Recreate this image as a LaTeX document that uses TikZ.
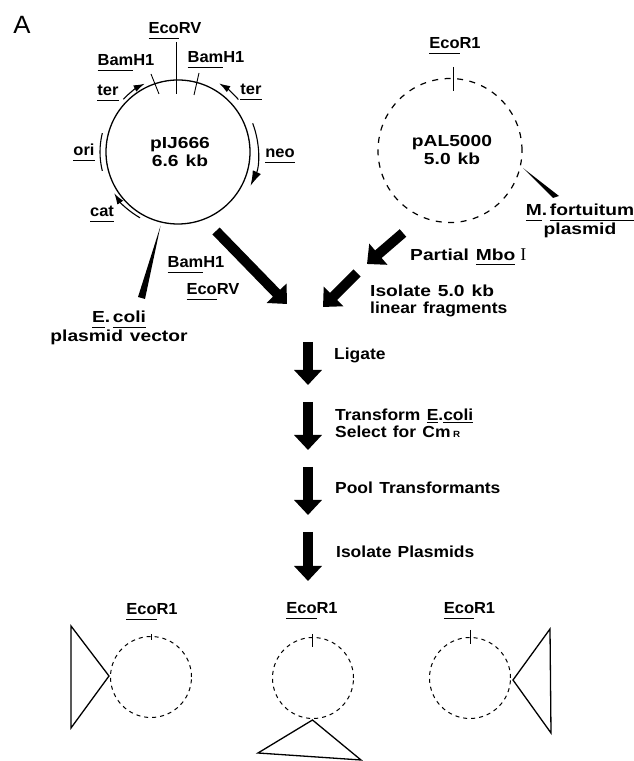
\documentclass[tikz,border=0pt]{standalone}
\usepackage{fontspec}
\setmainfont[FakeStretch=1.03]{Liberation Sans}
\newfontfamily\romanI{Liberation Serif}
\newfontfamily\stepfont[FakeStretch=1.09,WordSpace=1.3]{Liberation Sans}
\newfontfamily\widefont[FakeStretch=1.2,WordSpace=1.3]{Liberation Sans}
\usetikzlibrary{arrows.meta}

\newsavebox{\ulbox}
\newcommand{\uln}[2][5.5pt]{\sbox{\ulbox}{#2}\smash{\rlap{\rule[-#1]{\wd\ulbox}{0.9pt}}}\usebox{\ulbox}}

\tikzset{
  lab/.style={font=\fontsize{16}{17.5}\selectfont\bfseries,inner sep=0pt,align=center},
  widelab/.style={font=\fontsize{16}{17.5}\selectfont\bfseries\widefont,inner sep=0pt,align=center},
  steplab/.style={font=\fontsize{16}{17}\selectfont\bfseries\stepfont,inner sep=0pt,anchor=west,align=left},
  plasmid/.style={circle,draw,line width=1.3pt,inner sep=0pt,minimum size=144pt},
  parent/.style={circle,draw,dash pattern=on 6pt off 6.5pt,line width=1.2pt,inner sep=0pt,minimum size=144pt},
  product/.style={circle,draw,dash pattern=on 4pt off 4pt,line width=1pt,inner sep=0pt,minimum size=81pt},
  fatarrow/.style={line width=10pt,-{Triangle[length=15pt,width=27pt]}},
  genearrow/.style={line width=1.1pt,-{Latex[length=11pt,width=7pt]}},
  sitetick/.style={line width=0.9pt},
  wedge/.style={fill=black},
  insert/.style={line width=1.3pt,line join=miter}
}

\begin{document}
\begin{tikzpicture}[x=1pt,y=1pt]
\useasboundingbox (0,0) rectangle (634,761);

\node (panel) at (22,736) {\fontsize{25}{27}\selectfont A};

% pIJ666
\node[plasmid] (pIJ) at (178,609) {};
\node[widelab] (pIJname) at (180,609) {pIJ666\\6.6 kb};
\draw[sitetick] (176,719) -- (176,667);
\draw[sitetick] (151,687) -- (159,667);
\draw[sitetick] (199,688) -- (194,666);
\node[lab] (topEcoRV) at (175,733) {\uln{Eco}RV};
\node[lab] (leftBam) at (126,701) {\uln{Bam}H1};
\node[lab] (rightBam) at (216,704) {\uln{Bam}H1};
\node[lab] (leftter) at (108,671) {\uln{ter}};
\node[lab] (rightter) at (251,672) {\uln{ter}};
\node[lab] (ori) at (84,611) {\uln{ori}};
\node[lab] (neo) at (280,608) {\uln{neo}};
\node[lab] (cat) at (102,550) {\uln{cat}};
\draw[genearrow] (pIJ.center) ++(136:76) arc (136:116:76);
\draw[genearrow] (pIJ.center) ++(41:80) arc (41:59:80);
\draw[genearrow,-{Latex[length=15pt,width=9pt]}] (pIJ.center) ++(21:80) arc (21:-25:80);
\draw[genearrow] (pIJ.center) ++(240:76) arc (240:213:76);
\draw[line width=1.1pt] (pIJ.center) ++(166:78) arc (166:194:78);

% pAL5000
\node[parent] (pAL) at (450,610.5) {};
\node[widelab] (pALname) at (452,611) {pAL5000\\5.0 kb};
\draw[sitetick] (453,694) -- (453,670);
\node[lab] (topEcoR) at (455,718) {\uln{Eco}R1};

% wedges to the labels
\coordinate (vectorTip) at (160.5,535);
\fill[wedge] (vectorTip) -- (138,464) -- (145,462) -- cycle;
\node[widelab] (vector) at (119,433) {\uln{E}.\,\uln{coli}\\[1.5pt]plasmid vector};
\coordinate (fortTip) at (523,593);
\fill[wedge] (fortTip) -- (553,563) -- (559,565) -- cycle;
\node[widelab] (fort) at (580,540.5) {\uln{M}.\,\uln{fortuitum}\\[1.5pt]plasmid};

% digest arrows
\coordinate (bigTail) at (216,530);
\coordinate (bigTip) at (287,457);
\draw[fatarrow] (bigTail) -- (bigTip);
\node[lab] (cutBam) at (196,499) {\uln{Bam}H1};
\node[lab] (cutEco) at (213,472) {\uln{Eco}RV};
\coordinate (mboTail) at (403,528);
\coordinate (mboTip) at (367,497);
\draw[fatarrow] (mboTail) -- (mboTip);
\node[steplab,font=\fontsize{16}{17}\selectfont\bfseries\widefont] (mbo) at (410,506) {Partial \uln[4.5pt]{Mbo}\hspace{5pt}{\romanI\mdseries\fontsize{18}{18}\selectfont I}};
\coordinate (fragTail) at (357,488);
\coordinate (fragTip) at (323,454);
\draw[fatarrow] (fragTail) -- (fragTip);
\node[steplab] (frag) at (370,460.5) {\widefont Isolate 5.0 kb\\\stepfont linear fragments};

% steps
\coordinate (ligateTail) at (308,419);
\coordinate (ligateTip) at (308,376);
\draw[fatarrow] (ligateTail) -- (ligateTip);
\node[steplab] (ligate) at (334,406) {Ligate};
\coordinate (transTail) at (308,359);
\coordinate (transTip) at (308,311);
\draw[fatarrow] (transTail) -- (transTip);
\node[steplab] (trans) at (335,337.5) {Transform \uln[2pt]{E}.\uln[2pt]{coli}\\Select for Cm\,{\fontsize{9}{9}\selectfont R}};
\coordinate (poolTail) at (308,294);
\coordinate (poolTip) at (308,246);
\draw[fatarrow] (poolTail) -- (poolTip);
\node[steplab] (pool) at (335,273) {Pool Transformants};
\coordinate (isoTail) at (308,229);
\coordinate (isoTip) at (308,180);
\draw[fatarrow] (isoTail) -- (isoTip);
\node[steplab] (iso) at (336,209) {Isolate Plasmids};

% products
\node[product] (prodA) at (151,84) {};
\node[product] (prodB) at (313,83) {};
\node[product] (prodC) at (470,83) {};
\node[lab] (ecoA) at (152,152) {\uln{Eco}R1};
\node[lab] (ecoB) at (312,153) {\uln{Eco}R1};
\node[lab] (ecoC) at (469.5,153) {\uln{Eco}R1};
\draw[line width=1pt] (151,127) -- (151,121);
\draw[line width=1pt] (312,127) -- (312,114);
\draw[line width=1pt] (470,131) -- (470,117);
\draw[insert] (71,135) -- (109,85) -- (71,33) -- cycle;
\draw[insert] (312.5,41) -- (258,8) -- (361,1) -- cycle;
\draw[insert] (513,81) -- (550,132) -- (551,28) -- cycle;
\end{tikzpicture}
\end{document}
